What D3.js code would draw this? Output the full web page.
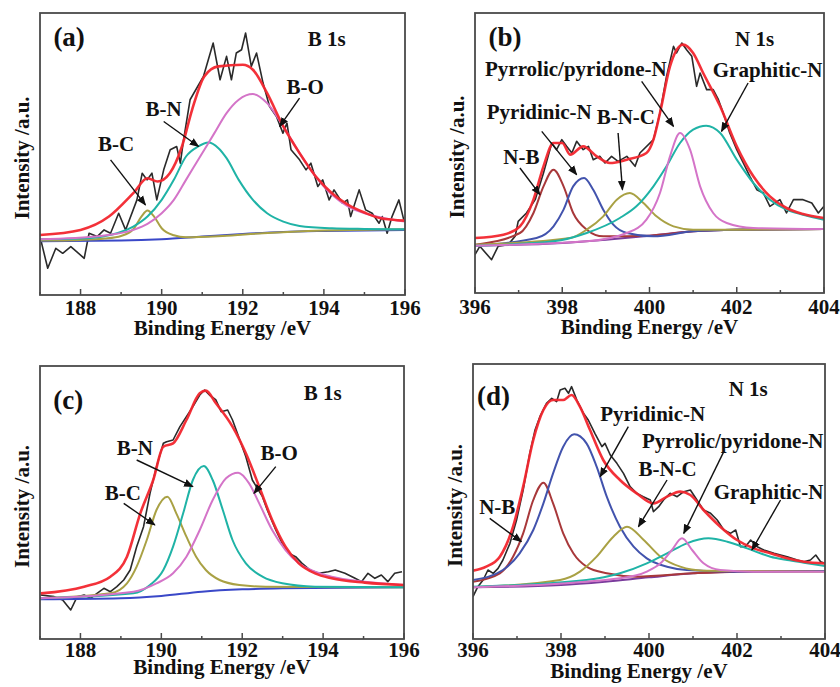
<!DOCTYPE html>
<meta charset="utf-8">
<style>
body { margin: 0; background: #fff; }
text { font-family: 'Liberation Serif', 'Times New Roman', serif; font-weight: bold; fill: #111; }
</style>
<body>
<svg class="xps"></svg>
<script src="https://d3js.org/d3.v7.min.js"></script>
<script>
// ---- panel (a) B 1s : [binding energy eV, intensity a.u.]
const aRaw = [[187.02,165],[187.19,80],[187.39,140],[187.56,125],[187.76,145],[188.09,110],[188.21,185],[188.41,175],[188.58,195],[188.74,185],[188.94,245],[189.11,195],[189.39,285],[189.52,365],[189.64,345],[189.76,365],[189.88,285],[190.05,375],[190.21,435],[190.37,445],[190.46,395],[190.54,465],[190.70,585],[191.03,655],[191.27,755],[191.44,645],[191.60,715],[191.72,645],[191.84,725],[191.97,735],[192.07,785],[192.21,685],[192.34,725],[192.50,635],[192.66,565],[192.83,535],[192.99,485],[193.09,515],[193.19,435],[193.40,405],[193.56,375],[193.68,395],[193.85,325],[193.97,345],[194.13,285],[194.25,315],[194.46,275],[194.58,285],[194.66,235],[194.87,315],[195.03,255],[195.19,245],[195.36,215],[195.44,235],[195.56,185],[195.68,235],[195.85,285],[195.97,225]];
const aFit = [[187,180],[188,195],[188.7,235],[189.3,305],[189.65,350],[189.9,340],[190.2,365],[190.5,445],[190.75,555],[191.05,655],[191.4,685],[192,690],[192.25,675],[192.6,605],[193,505],[193.4,425],[193.8,355],[194.2,305],[194.6,270],[195,247],[195.4,230],[196,223]];
const aBase = [[187,161],[189,163],[190,167],[191,175],[192,183],[193,189],[194,192],[196,195]];
const aBC = [[187,163],[188,165],[188.6,169],[189.0,177],[189.3,197],[189.5,235],[189.65,253],[189.8,237],[190.0,200],[190.3,179],[190.6,173],[191.5,177],[192.5,185],[194,193],[196,197]];
const aBN = [[187,167],[188,169],[188.9,185],[189.3,205],[189.65,235],[190,285],[190.3,345],[190.6,415],[190.9,445],[191.15,457],[191.4,440],[191.6,410],[191.9,345],[192.25,285],[192.6,245],[193,220],[193.4,207],[194.2,200],[195,198],[196,197]];
const aBO = [[187,167],[188.5,177],[189.3,195],[189.65,213],[190,245],[190.3,285],[190.6,345],[190.95,415],[191.3,485],[191.6,545],[191.9,585],[192.25,602],[192.6,575],[193,505],[193.4,425],[193.8,355],[194.2,300],[194.6,265],[195,245],[195.5,230],[196,220]];

// ---- panel (b) N 1s
const bRaw = [[396.00,115],[396.11,140],[396.38,100],[396.53,140],[396.76,145],[396.92,170],[396.99,215],[397.18,240],[397.38,280],[397.57,360],[397.76,450],[397.87,430],[397.99,460],[398.10,440],[398.22,420],[398.33,455],[398.48,430],[398.60,440],[398.71,400],[398.86,410],[398.98,390],[399.13,410],[399.28,395],[399.48,410],[399.67,380],[399.78,420],[400.09,460],[400.24,540],[400.39,650],[400.55,740],[400.62,720],[400.74,750],[400.85,730],[400.97,710],[401.08,620],[401.16,660],[401.31,610],[401.46,610],[401.58,580],[401.69,540],[401.84,480],[402.00,430],[402.15,390],[402.30,350],[402.46,310],[402.61,300],[402.76,260],[402.99,280],[403.14,240],[403.30,280],[403.52,280],[403.72,270],[403.87,240],[404.00,260]];
const bFit = [[396,165],[396.65,175],[397.03,200],[397.34,280],[397.57,380],[397.8,450],[398,450],[398.18,415],[398.48,440],[398.79,410],[399.09,390],[399.48,400],[399.93,420],[400.09,460],[400.24,540],[400.47,680],[400.77,745],[401,720],[401.23,660],[401.62,560],[402,440],[402.38,350],[402.76,290],[403.14,255],[403.52,237],[404,225]];
const bBase = [[396,142],[398,150],[399,160],[400,172],[401,185],[402,190],[404,192]];
const bNB = [[396,145],[397.03,180],[397.34,240],[397.57,320],[397.8,370],[398.03,320],[398.25,240],[398.56,190],[398.94,170],[400,172],[401,185],[402,190],[404,192]];
const bPyd = [[396,142],[397.41,165],[397.8,200],[398.03,250],[398.25,320],[398.5,345],[398.71,310],[398.94,250],[399.17,205],[399.48,180],[400.09,170],[401,185],[402,190],[404,192]];
const bBNC = [[396,145],[398.18,165],[398.56,190],[398.94,230],[399.25,280],[399.55,300],[399.86,270],[400.16,230],[400.55,200],[401,190],[402,190],[404,192]];
const bPyr = [[396,142],[398.56,155],[399.48,180],[399.93,220],[400.24,300],[400.47,410],[400.7,480],[400.93,430],[401.16,320],[401.46,240],[401.77,210],[402.38,195],[404,192]];
const bGra = [[396,142],[397.8,155],[398.56,180],[399.32,225],[399.7,260],[400.09,320],[400.39,380],[400.7,450],[401,490],[401.3,502],[401.62,480],[402,400],[402.38,330],[402.76,280],[403.14,250],[403.52,235],[404,220]];

// ---- panel (c) B 1s
const cRaw = [[187.02,132],[187.35,127],[187.56,117],[187.76,87],[187.92,127],[188.09,132],[188.25,122],[188.41,137],[188.58,152],[188.74,142],[188.90,157],[189.07,177],[189.23,207],[189.39,277],[189.56,337],[189.72,437],[189.88,517],[190.05,587],[190.13,592],[190.29,597],[190.46,637],[190.62,667],[190.78,697],[190.95,732],[191.07,747],[191.19,732],[191.35,717],[191.48,682],[191.64,687],[191.76,657],[191.88,617],[192.09,547],[192.25,477],[192.50,427],[192.62,387],[192.83,327],[192.99,287],[193.15,257],[193.32,247],[193.48,227],[193.68,207],[193.89,197],[194.13,202],[194.30,207],[194.54,197],[194.79,182],[194.95,172],[195.11,197],[195.28,182],[195.44,192],[195.60,172],[195.77,197],[195.95,202]];
const cFit = [[187.02,137],[188.09,157],[188.74,187],[189.15,247],[189.48,377],[189.8,477],[190.05,577],[190.29,587],[190.62,657],[190.95,737],[191.1,745],[191.35,707],[191.76,637],[192.09,557],[192.42,457],[192.74,357],[193.07,277],[193.4,227],[193.8,197],[194.21,182],[195.03,169],[196,162]];
const cBase = [[187,119],[189,122],[190,129],[191,142],[192,149],[193,152],[196,155]];
const cBC = [[187,122],[188.74,137],[189.15,167],[189.39,217],[189.64,297],[189.88,387],[190.15,427],[190.37,377],[190.62,307],[190.86,247],[191.1,207],[191.44,177],[191.93,162],[192.58,157],[196,155]];
const cBN = [[187,122],[189.31,137],[189.72,162],[190.05,207],[190.29,277],[190.54,377],[190.78,477],[191.05,519],[191.27,477],[191.52,387],[191.76,297],[192.09,227],[192.5,187],[192.99,167],[193.8,157],[196,155]];
const cBO = [[187,122],[189.31,142],[189.88,167],[190.29,197],[190.62,247],[190.95,327],[191.27,417],[191.6,482],[191.9,499],[192.17,467],[192.42,407],[192.74,327],[193.07,267],[193.4,227],[193.8,202],[194.21,187],[195.03,172],[196,162]];

// ---- panel (d) N 1s
const dRaw = [[396.00,127],[396.11,157],[396.23,177],[396.34,207],[396.46,197],[396.57,212],[396.68,237],[396.84,287],[396.99,357],[397.14,447],[397.29,557],[397.41,627],[397.52,667],[397.67,707],[397.79,722],[397.90,712],[397.98,747],[398.09,752],[398.17,737],[398.24,757],[398.36,717],[398.51,677],[398.62,657],[398.77,617],[398.93,577],[399.00,587],[399.12,552],[399.27,527],[399.42,497],[399.57,457],[399.72,437],[399.87,427],[400.03,417],[400.10,382],[400.22,397],[400.33,417],[400.48,437],[400.64,427],[400.79,442],[400.94,447],[401.09,417],[401.24,387],[401.40,377],[401.55,357],[401.70,327],[401.85,317],[401.97,327],[402.08,277],[402.19,277],[402.31,297],[402.46,277],[402.61,267],[402.84,257],[402.99,252],[403.14,247],[403.37,237],[403.52,232],[403.67,237],[403.79,252],[403.90,232],[404.00,227]];
const dFit = [[396,205],[396.3,217],[396.61,247],[396.91,337],[397.14,457],[397.37,597],[397.6,687],[397.82,717],[398.05,717],[398.24,732],[398.43,697],[398.66,627],[398.96,537],[399.34,477],[399.72,437],[400.1,407],[400.41,427],[400.71,442],[400.94,432],[401.24,387],[401.62,337],[402,297],[402.38,272],[402.76,257],[403.14,242],[403.52,232],[404,227]];
const dBase = [[396,155],[398,162],[399,172],[400,185],[401,197],[402,202],[404,204]];
const dNB = [[396,172],[396.61,197],[396.91,247],[397.14,317],[397.37,417],[397.6,469],[397.82,407],[398.05,317],[398.28,257],[398.58,217],[399.04,197],[399.72,187],[401,197],[402,202],[404,204]];
const dPyd = [[396,177],[396.68,207],[397.06,257],[397.37,327],[397.6,407],[397.82,497],[398.05,577],[398.3,614],[398.58,587],[398.81,517],[399.04,427],[399.34,337],[399.65,277],[399.95,242],[400.41,217],[400.86,207],[402,202],[404,204]];
const dBNC = [[396,155],[397.98,177],[398.43,202],[398.81,247],[399.19,307],[399.5,337],[399.88,297],[400.26,247],[400.71,217],[401.24,205],[404,202]];
const dPyr = [[396,155],[399.34,182],[399.95,202],[400.26,227],[400.52,267],[400.75,302],[400.98,267],[401.24,227],[401.62,207],[402.38,202],[404,202]];
const dGra = [[396,157],[398.58,177],[399.34,197],[399.95,227],[400.41,257],[400.86,287],[401.35,302],[401.78,292],[402.23,272],[402.76,247],[403.14,237],[403.52,229],[404,219]];

// ---- annotations: [text, eV, intensity]  and arrows [eV1, I1, eV2, I2]
const aLabels = [['(a)',187.33,745,'big'],['B 1s',193.6,747],['B-O',193.08,602],['B-N',189.6,535],['B-C',188.43,430]];
const aArrows = [[193.40,590,192.91,505],[190.05,520,190.91,445],[188.74,405,189.60,270]];
const bLabels = [['(b)',396.31,740,'big'],['N 1s',401.96,742],['Pyrrolic/pyridone-N',396.23,652],['Graphitic-N',401.45,648],['Pyridinic-N',396.27,522],['B-N-C',398.79,507],['N-B',396.65,387]];
const bArrows = [[399.82,635,400.55,500],[402.26,630,401.65,485],[397.53,485,398.33,355],[399.28,480,399.38,310],[397.03,375,397.49,295]];
const cLabels = [['(c)',187.33,689,'big'],['B 1s',193.52,717],['B-N',188.9,552],['B-O',192.45,537],['B-C',188.6,417]];
const cArrows = [[189.39,537,190.78,457],[192.83,517,192.29,437],[189.07,407,189.84,342]];
const dLabels = [['(d)',396.09,702,'big'],['N 1s',401.81,729],['Pyridinic-N',398.89,654],['Pyrrolic/pyridone-N',399.84,574],['B-N-C',399.76,489],['Graphitic-N',401.47,419],['N-B',396.14,375]];
const dArrows = [[399.53,637,398.89,487],[401.70,562,400.79,317],[400.41,477,399.76,337],[402.99,417,402.34,267],[396.38,362,397.10,292]];

const bTicks = [187,188,189,190,191,192,193,194,195,196];
const nTicks = [396,397,398,399,400,401,402,403,404];

// colours
const cRed = '#f2262e', cMag = '#d474c8', cTeal = '#1fb3a6', cOlive = '#a9a144',
      cBlue = '#3a48c8', cBrown = '#a8383a', cPyd = '#4253ad', cPurple = '#7a3c9c', cBlack = '#2a2a2a';

const svg = d3.select('.xps').attr('width', 840).attr('height', 687);

svg.append('defs').append('marker')
   .attr('id', 'arr').attr('viewBox', '0 0 10 10').attr('refX', 9).attr('refY', 5)
   .attr('markerWidth', 7).attr('markerHeight', 7).attr('orient', 'auto')
   .append('path').attr('d', 'M0,1 L10,5 L0,9 Z').attr('fill', '#111');

const panels = [
  {id:'a', l:40, r:405, t:13, b:295, xd:[187,196], yTop:845, ticks:bTicks, tickDy:20, titleDy:40, titleDx:0,
   raw:aRaw, fit:aFit, comps:[[aBase,cBlue],[aBC,cOlive],[aBN,cTeal],[aBO,cMag]], labels:aLabels, arrows:aArrows},
  {id:'b', l:475, r:824, t:13, b:293, xd:[396,404], yTop:840, ticks:nTicks, tickDy:21, titleDy:41, titleDx:0,
   raw:bRaw, fit:bFit, comps:[[bBase,cPurple],[bNB,cBrown],[bPyd,cPyd],[bBNC,cOlive],[bGra,cTeal],[bPyr,cMag]], labels:bLabels, arrows:bArrows},
  {id:'c', l:40, r:404, t:366, b:639, xd:[187,196], yTop:819, ticks:bTicks, tickDy:18, titleDy:35, titleDx:0,
   raw:cRaw, fit:cFit, comps:[[cBase,cBlue],[cBC,cOlive],[cBN,cTeal],[cBO,cMag]], labels:cLabels, arrows:cArrows},
  {id:'d', l:473, r:825, t:364, b:639, xd:[396,404], yTop:825, ticks:nTicks, tickDy:18, titleDy:39, titleDx:-10,
   raw:dRaw, fit:dFit, comps:[[dBase,cPurple],[dNB,cBrown],[dPyd,cPyd],[dBNC,cOlive],[dGra,cTeal],[dPyr,cMag]], labels:dLabels, arrows:dArrows}
];

panels.forEach(p => {
  const x = d3.scaleLinear().domain(p.xd).range([p.l, p.r]);
  const y = d3.scaleLinear().domain([0, p.yTop]).range([p.b, p.t]);
  const g = svg.append('g');

  g.append('clipPath').attr('id', 'clip' + p.id)
   .append('rect').attr('x', p.l).attr('y', p.t).attr('width', p.r - p.l).attr('height', p.b - p.t);

  const plot = g.append('g').attr('clip-path', `url(#clip${p.id})`);
  const smooth = d3.line().x(d => x(d[0])).y(d => y(d[1])).curve(d3.curveMonotoneX);
  const jag = d3.line().x(d => x(d[0])).y(d => y(d[1]));

  plot.append('path').attr('d', jag(p.raw)).attr('fill', 'none')
      .attr('stroke', cBlack).attr('stroke-width', 1.6).attr('stroke-linejoin', 'round');

  plot.selectAll('.comp').data(p.comps).join('path')
      .attr('d', d => smooth(d[0])).attr('fill', 'none')
      .attr('stroke', d => d[1]).attr('stroke-width', 2);

  plot.append('path').attr('d', smooth(p.fit)).attr('fill', 'none')
      .attr('stroke', cRed).attr('stroke-width', 2.6).attr('stroke-opacity', 0.95);

  // frame
  g.append('rect').attr('x', p.l).attr('y', p.t).attr('width', p.r - p.l).attr('height', p.b - p.t)
   .attr('fill', 'none').attr('stroke', '#4a4a4a').attr('stroke-width', 1.8);

  // ticks pointing inward, labels on even values
  g.selectAll('.tk').data(p.ticks).join('line')
   .attr('x1', d => x(d)).attr('x2', d => x(d))
   .attr('y1', p.b).attr('y2', d => p.b - (d % 2 === 0 ? 6 : 3))
   .attr('stroke', '#4a4a4a').attr('stroke-width', 1.5);

  g.selectAll('.tl').data(p.ticks.filter(d => d % 2 === 0)).join('text')
   .attr('x', d => x(d)).attr('y', p.b + p.tickDy)
   .attr('text-anchor', 'middle').style('font-size', '21px').text(d => d);

  g.append('text').attr('x', (p.l + p.r) / 2 + p.titleDx).attr('y', p.b + p.titleDy)
   .attr('text-anchor', 'middle').style('font-size', '21px').text('Binding Energy /eV');

  g.append('text')
   .attr('transform', `translate(${p.l - 11},${(p.t + p.b) / 2 + 4}) rotate(-90)`)
   .attr('text-anchor', 'middle').style('font-size', '21px').text('Intensity /a.u.');

  // annotations
  g.selectAll('.ar').data(p.arrows).join('line')
   .attr('x1', d => x(d[0])).attr('y1', d => y(d[1]))
   .attr('x2', d => x(d[2])).attr('y2', d => y(d[3]))
   .attr('stroke', '#111').attr('stroke-width', 1.4).attr('marker-end', 'url(#arr)');

  g.selectAll('.lb').data(p.labels).join('text')
   .attr('x', d => x(d[1])).attr('y', d => y(d[2]))
   .style('font-size', d => d[3] ? '27px' : '21px')
   .text(d => d[0]);
});
</script>
</body>
